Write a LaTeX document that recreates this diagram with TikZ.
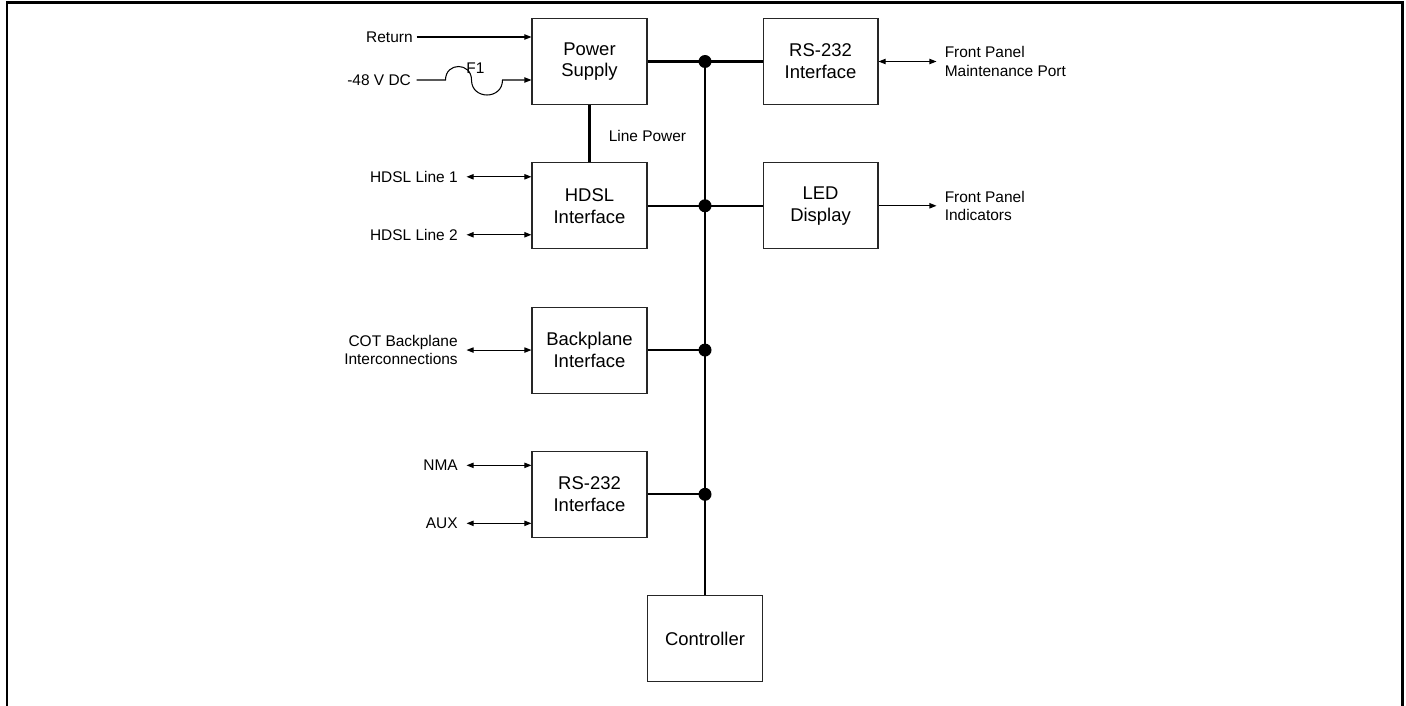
\documentclass[tikz,border=0pt]{standalone}
\usepackage{fontspec}
\setmainfont{Liberation Sans}
\usetikzlibrary{arrows.meta, positioning, calc}
\tikzset{
  blk/.style={rectangle, draw=black!85, line width=0.6pt,
              minimum width=2.3cm, minimum height=1.72cm,
              inner sep=0pt, align=center,
              font=\fontsize{10.5}{12.4}\selectfont},
  lbl/.style={font=\fontsize{8.8}{10.4}\selectfont,
              inner xsep=4.8pt, inner ysep=1pt},
  arr/.style={-{Triangle[length=4pt, width=3pt]}, line width=0.6pt},
  dbl/.style={{Triangle[length=4pt, width=3pt]}-{Triangle[length=4pt, width=3pt]},
              line width=0.6pt},
  bus/.style={line width=1.2pt},
  jdot/.style={circle, fill=black, inner sep=0pt, minimum size=0.26cm},
}

\begin{document}
\begin{tikzpicture}[x=0.02cm, y=-0.02cm, node distance=1.145cm and 2.3cm]
  \useasboundingbox (0,0) rectangle (1406,706);
  %% Frame
  \draw[line width=1.7pt] (7,706) -- (7,2.5) -- (1402.5,2.5) -- (1402.5,706);
  %% Left column
  \node[blk] (ps) at (589.5,61.5) {Power\\Supply};
  \node[blk, below=of ps]   (hdsl) {HDSL\\Interface};
  \node[blk, below=of hdsl] (bp)   {Backplane\\Interface};
  \node[blk, below=of bp]   (rs2)  {RS-232\\Interface};
  %% Right column
  \node[blk, right=of ps]   (rs1)  {RS-232\\Interface};
  \node[blk, right=of hdsl] (led)  {LED\\Display};
  %% Bus
  \coordinate (bustop) at ($(ps.east)!0.5!(rs1.west)$);
  \coordinate (busend) at (rs2.south -| bustop);
  \node[blk, below=of busend] (ctrl) {Controller};
  \draw[bus] (bustop) -- (ctrl.north);
  \draw[bus] (ps.east) -- (rs1.west);
  \draw[bus] (hdsl.east) -- (led.west);
  \draw[bus] (bp.east) -- (bp.east -| bustop);
  \draw[bus] (rs2.east) -- (rs2.east -| bustop);
  \foreach \b in {ps,hdsl,bp,rs2}
    \node[jdot] (j-\b) at (\b.east -| bustop) {};
  \draw[bus] (ps.south) -- (hdsl.north);
  \node[lbl, anchor=west] (lp) at ([shift={(10.5,31)}]ps.south) {Line Power};
  %% Power inputs
  \node[lbl, left=2.3cm of ps.west, yshift=0.49cm, inner xsep=2pt] (ret) {Return};
  \draw[arr] (ret) -- (ret -| ps.west);
  \node[lbl, left=2.3cm of ps.west, yshift=-0.37cm, inner xsep=3pt] (dc) {-48 V DC};
  \draw[arr] (dc.east) -- ++(29,0)
    .. controls +(0,-18) and +(0,-18) .. ++(26,0) coordinate (fm)
    .. controls +(0,20) and +(0,20) .. ++(31,0) -- (ps.west |- dc.east);
  \node[lbl, inner sep=1pt] (f1) at ([shift={(4,-12)}]fm) {F1};
  %% Line inputs
  \node[lbl, left=1.3cm of hdsl.west, yshift=0.58cm]  (hl1) {HDSL Line 1};
  \node[lbl, left=1.3cm of hdsl.west, yshift=-0.58cm] (hl2) {HDSL Line 2};
  \node[lbl, left=1.3cm of bp.west, align=right] (cot) {COT Backplane\\Interconnections};
  \node[lbl, left=1.3cm of rs2.west, yshift=0.58cm]  (nma) {NMA};
  \node[lbl, left=1.3cm of rs2.west, yshift=-0.58cm] (aux) {AUX};
  \draw[dbl] (hl1) -- (hl1 -| hdsl.west);
  \draw[dbl] (hl2) -- (hl2 -| hdsl.west);
  \draw[dbl] (cot) -- (cot -| bp.west);
  \draw[dbl] (nma) -- (nma -| rs2.west);
  \draw[dbl] (aux) -- (aux -| rs2.west);
  %% Front panel
  \node[lbl, right=1.16cm of rs1.east, align=left, inner xsep=4.5pt] (fpm)
    {Front Panel\\Maintenance Port};
  \node[lbl, right=1.16cm of led.east, align=left, inner xsep=4.5pt] (fpi)
    {Front Panel\\Indicators};
  \draw[dbl] (rs1.east) -- (fpm.west);
  \draw[arr] (led.east) -- (fpi.west);
\end{tikzpicture}
\end{document}
